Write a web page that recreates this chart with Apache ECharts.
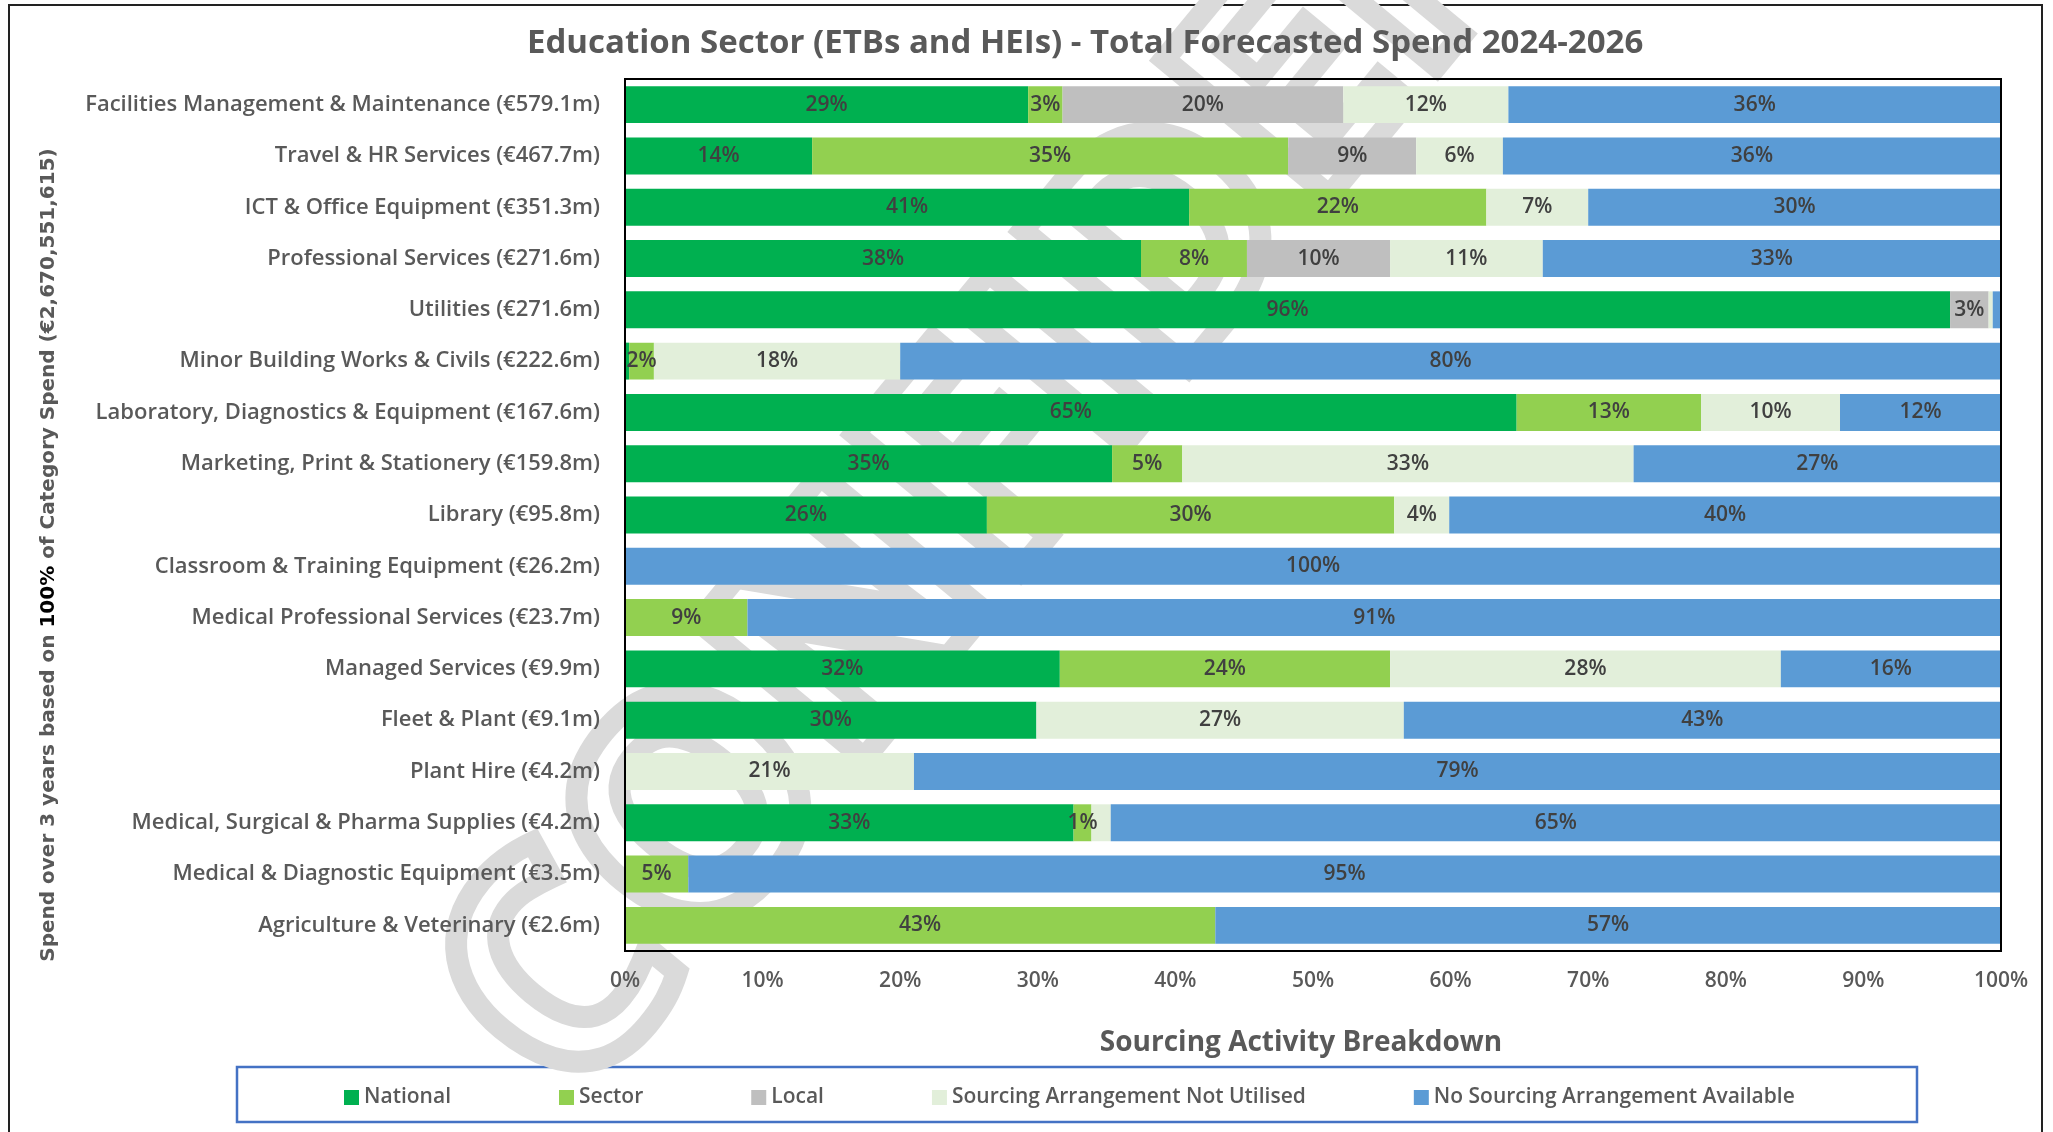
<!DOCTYPE html>
<html>
<head>
<meta charset="utf-8">
<title>Education Sector - Total Forecasted Spend 2024-2026</title>
<script src="https://cdn.jsdelivr.net/npm/echarts@6/dist/echarts.min.js"></script>
<style>
  html, body { margin: 0; padding: 0; background: #fff; }
  #main { width: 2053px; height: 1132px; }
</style>
</head>
<body>
<div id="main"></div>
<script>
// categories, top to bottom
var categories = [
  'Facilities Management & Maintenance (€579.1m)',
  'Travel & HR Services (€467.7m)',
  'ICT & Office Equipment (€351.3m)',
  'Professional Services (€271.6m)',
  'Utilities (€271.6m)',
  'Minor Building Works & Civils (€222.6m)',
  'Laboratory, Diagnostics & Equipment (€167.6m)',
  'Marketing, Print & Stationery (€159.8m)',
  'Library (€95.8m)',
  'Classroom & Training Equipment (€26.2m)',
  'Medical Professional Services (€23.7m)',
  'Managed Services (€9.9m)',
  'Fleet & Plant (€9.1m)',
  'Plant Hire (€4.2m)',
  'Medical, Surgical & Pharma Supplies (€4.2m)',
  'Medical & Diagnostic Equipment (€3.5m)',
  'Agriculture & Veterinary (€2.6m)'
];

// share of spend in %
var national      = [29.3, 13.6, 41.0, 37.5, 96.3, 0.3, 64.8, 35.4, 26.3, 0, 0, 31.6, 29.9, 0, 32.6, 0, 0];
var sector        = [2.5, 34.6, 21.6, 7.7, 0, 1.8, 13.4, 5.1, 29.6, 0, 8.9, 24.0, 0, 0, 1.3, 4.6, 42.9];
var local         = [20.4, 9.3, 0, 10.4, 2.8, 0, 0, 0, 0, 0, 0, 0, 0, 0, 0, 0, 0];
var notUtilised   = [12.0, 6.3, 7.4, 11.1, 0.3, 17.9, 10.1, 32.8, 4.0, 0, 0, 28.4, 26.7, 21.0, 1.4, 0, 0];
var noArrangement = [35.8, 36.2, 30.0, 33.3, 0.6, 80.0, 11.7, 26.7, 40.1, 100, 91.1, 16.0, 43.4, 79.0, 64.7, 95.4, 57.1];

var seriesNames = ['National', 'Sector', 'Local', 'Sourcing Arrangement Not Utilised', 'No Sourcing Arrangement Available'];
var seriesColors = ['#00B050', '#92D050', '#BFBFBF', '#E2EFDA', '#5B9BD5'];
var xTicks = [0, 10, 20, 30, 40, 50, 60, 70, 80, 90, 100];

// labels that were removed in the original (series index, row index)
var hiddenLabels = [[4, 4], [3, 14]];

var FONT = '"Open Sans", "Noto Sans", sans-serif';

function isHidden(s, i) {
  for (var k = 0; k < hiddenLabels.length; k++) {
    if (hiddenLabels[k][0] === s && hiddenLabels[k][1] === i) return true;
  }
  return false;
}

var allData = [national, sector, local, notUtilised, noArrangement];
var series = allData.map(function (arr, s) {
  return {
    name: seriesNames[s],
    type: 'bar',
    stack: 'total',
    barCategoryGap: '28%',
    itemStyle: { color: seriesColors[s] },
    label: {
      show: true,
      position: 'inside',
      color: '#404040',
      fontFamily: FONT,
      fontSize: 21,
      fontWeight: 600,
      formatter: function (p) {
        var r = Math.round(p.value);
        if (r === 0 || isHidden(s, p.dataIndex)) return '';
        return r + '%';
      }
    },
    emphasis: { disabled: true },
    data: arr
  };
});

var chart = echarts.init(document.getElementById('main'));
var option = {
  animation: false,
  backgroundColor: '#fff',
  title: {
    text: 'Education Sector (ETBs and HEIs) - Total Forecasted Spend 2024-2026',
    left: 522,
    top: 22,
    textStyle: { fontFamily: FONT, fontSize: 33, fontWeight: 'bold', color: '#595959' }
  },
  grid: {
    left: 625, right: 52, top: 79, bottom: 181, z: 3,
    show: true, borderColor: '#000', borderWidth: 2
  },
  legend: {
    data: seriesNames,
    left: 344,
    top: 1087,
    padding: 0,
    itemGap: 108,
    itemWidth: 15,
    itemHeight: 15,
    icon: 'rect',
    textStyle: { fontFamily: FONT, fontSize: 21, fontWeight: 600, color: '#595959' }
  },
  xAxis: {
    type: 'value',
    z: 3,
    min: 0,
    max: 100,
    interval: 10,
    axisLabel: {
      fontFamily: FONT, fontSize: 21, fontWeight: 600, color: '#595959', margin: 20,
      formatter: function (v) { return xTicks.indexOf(v) >= 0 ? v + '%' : ''; }
    },
    axisLine: { show: false },
    axisTick: { show: false },
    splitLine: { show: false },
    name: 'Sourcing Activity Breakdown',
    nameLocation: 'middle',
    nameGap: 78,
    nameTextStyle: { fontFamily: FONT, fontSize: 28, fontWeight: 'bold', color: '#595959', padding: [0, 24, 0, 0] }
  },
  yAxis: {
    type: 'category',
    z: 3,
    inverse: true,
    data: categories,
    axisLabel: { fontFamily: FONT, fontSize: 22, fontWeight: 600, color: '#595959', margin: 25 },
    axisLine: { show: false },
    axisTick: { show: false },
    name: '{g|Spend over 3 years based on }{b|100%}{g| of Category Spend (€2,670,551,615)}',
    nameLocation: 'middle',
    nameRotate: 90,
    nameGap: 566,
    nameTextStyle: {
      padding: [0, 80, 0, 0],
      rich: {
        g: { fontFamily: '"DejaVu Sans", sans-serif', fontSize: 20, fontWeight: 'bold', color: '#595959' },
        b: { fontFamily: '"DejaVu Sans", sans-serif', fontSize: 20, fontWeight: 'bold', color: '#000' }
      }
    }
  },
  graphic: [
    {
      type: 'rect', silent: true, z: 0,
      shape: { x: 9, y: 5, width: 2033, height: 1135 },
      style: { fill: 'none', stroke: '#222', lineWidth: 2 }
    },
    {
      type: 'rect', silent: true, z: 0,
      shape: { x: 237, y: 1067, width: 1680, height: 55 },
      style: { fill: 'none', stroke: '#4472C4', lineWidth: 2.5 }
    },
    {
      // watermark, sits behind the bars
      type: 'text', silent: true, z: 1,
      x: 1215, y: 200,
      rotation: 0.88,
      style: {
        text: 'CONFIDENTIAL',
        font: 'bold 300px "Open Sans", sans-serif',
        align: 'center',
        verticalAlign: 'middle',
        fill: 'none',
        stroke: '#dadada',
        lineWidth: 22
      }
    }
  ],
  series: series
};
chart.setOption(option);
</script>
</body>
</html>
